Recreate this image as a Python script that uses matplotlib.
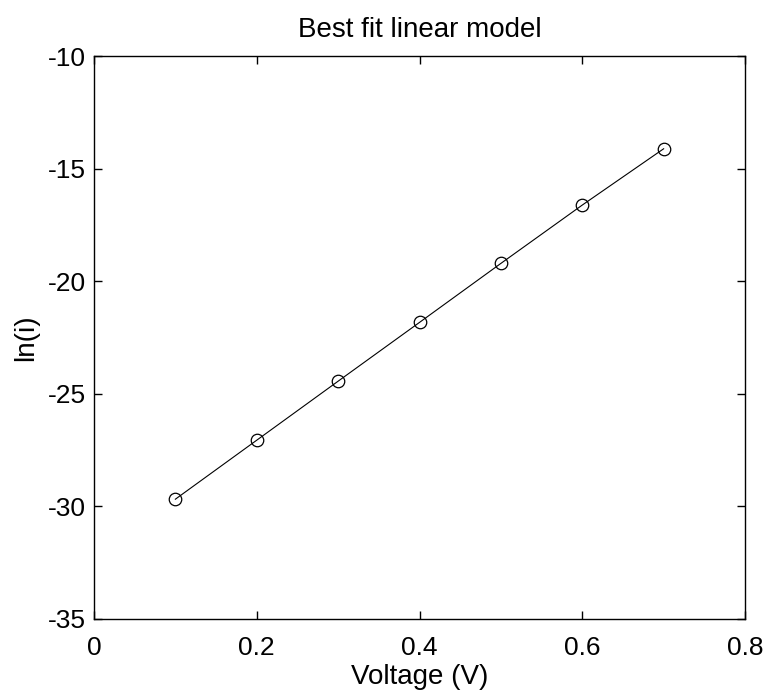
import numpy as np
import matplotlib
matplotlib.use('Agg')
import matplotlib.pyplot as plt

plt.rcParams['font.family'] = ['Liberation Sans', 'DejaVu Sans']
plt.rcParams['axes.unicode_minus'] = False

# data
voltage = [0.1, 0.2, 0.3, 0.4, 0.5, 0.6, 0.7]
ln_i = [-29.68, -27.06, -24.44, -21.83, -19.21, -16.62, -14.12]

x_ticks = [0, 0.2, 0.4, 0.6, 0.8]
x_labels = ['0', '0.2', '0.4', '0.6', '0.8']
y_ticks = [-35, -30, -25, -20, -15, -10]

fig = plt.figure(figsize=(7.68, 6.94), dpi=100)
ax = fig.add_axes([94 / 768, 1 - 619 / 694, 651 / 768, 563 / 694])

ax.plot(voltage, ln_i, color='black', lw=0.8, marker='o', ms=9,
        mfc='none', mec='black', mew=0.9)

ax.set_xlim(0, 0.8)
ax.set_ylim(-35, -10)
ax.set_xticks(x_ticks)
ax.set_xticklabels(x_labels)
ax.set_yticks(y_ticks)

ax.tick_params(direction='in', length=6, width=1, top=True, right=True,
               labelsize=19)
ax.tick_params(axis='y', pad=6)
ax.tick_params(axis='x', pad=12)
for s in ax.spines.values():
    s.set_linewidth(1)

ax.set_title('Best fit linear model', fontsize=20, pad=14)
ax.set_xlabel('Voltage (V)', fontsize=20, labelpad=3)
ax.set_ylabel('ln(i)', fontsize=20, labelpad=6)

fig.savefig('out.png', dpi=100)
